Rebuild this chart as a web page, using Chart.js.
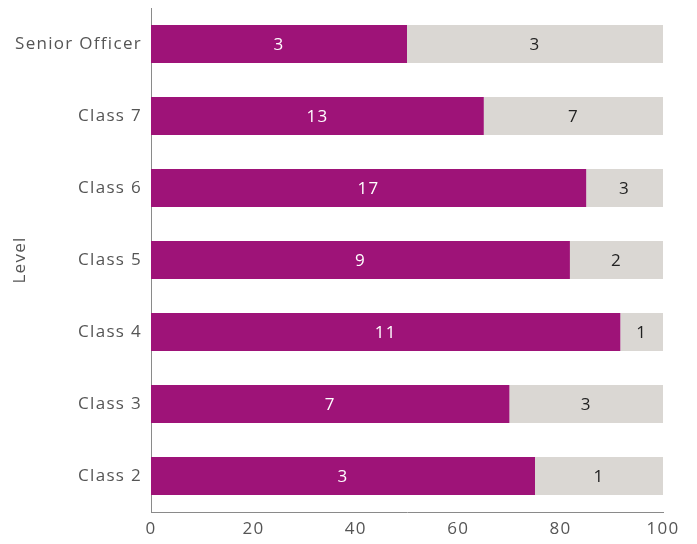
<!DOCTYPE html>
<html><head><meta charset="utf-8">
<script src="https://cdn.jsdelivr.net/npm/chart.js@4/dist/chart.umd.min.js"></script>
<style>html,body{margin:0;padding:0;background:#fff}#wrap{width:697px;height:544px}</style>
</head><body><div id="wrap"><canvas id="c"></canvas></div>
<script>
const categories = ["Senior Officer","Class 7","Class 6","Class 5","Class 4","Class 3","Class 2"];
const countsA = [3,13,17,9,11,7,3];
const countsB = [3,7,3,2,1,3,1];
const xTicks = [0,20,40,60,80,100];
const axisTitle = "Level";

const pctA = countsA.map((v,i)=>v/(v+countsB[i])*100);
const pctB = countsB.map((v,i)=>v/(v+countsA[i])*100);
const FONT = "'Open Sans', sans-serif";
const SPACING = '1.3px';

const spacingPlugin = {
  id:'spacing',
  beforeUpdate(chart){ chart.ctx.letterSpacing = SPACING; },
  beforeDraw(chart){ chart.ctx.letterSpacing = SPACING; }
};

const labelPlugin = {
  id:'segLabels',
  afterDatasetsDraw(chart){
    const ctx = chart.ctx;
    chart.data.datasets.forEach((ds,di)=>{
      const meta = chart.getDatasetMeta(di);
      meta.data.forEach((bar,i)=>{
        const x = (bar.x + bar.base)/2;
        ctx.save();
        ctx.letterSpacing = SPACING;
        ctx.font = "17px " + FONT;
        ctx.fillStyle = ds.labelColor;
        ctx.textAlign='center'; ctx.textBaseline='middle';
        ctx.fillText(String(ds.counts[i]), x, bar.y + 1);
        ctx.restore();
      });
    });
  }
};

new Chart(document.getElementById('c'),{
  type:'bar',
  data:{labels:categories,datasets:[
    {data:pctA,counts:countsA,backgroundColor:'#9E1378',labelColor:'#ffffff',categoryPercentage:0.53,barPercentage:1},
    {data:pctB,counts:countsB,backgroundColor:'#DAD7D3',labelColor:'#222222',categoryPercentage:0.53,barPercentage:1}
  ]},
  options:{
    indexAxis:'y',responsive:true,maintainAspectRatio:false,animation:false,
    layout:{padding:{top:0,right:34,bottom:0,left:2}},
    plugins:{legend:{display:false},tooltip:{enabled:false}},
    scales:{
      x:{stacked:true,min:0,max:100,
        afterBuildTicks(s){s.ticks=xTicks.map(v=>({value:v}));},
        afterFit(s){ s.height = 32; },
        grid:{display:false,drawTicks:false},
        border:{display:true,color:'#8a8a8a',width:1},
        ticks:{padding:9,color:'#555',font:{family:FONT,size:17,lineHeight:1}}},
      y:{stacked:true,
        afterFit(s){ s.width = 149; s.paddingTop = 8; s.paddingBottom = 0; },
        grid:{display:false,drawTicks:false},
        border:{display:true,color:'#8a8a8a',width:1},
        ticks:{padding:9,color:'#555',font:{family:FONT,size:17,lineHeight:1}},
        title:{display:true,text:axisTitle,color:'#555',font:{family:FONT,size:17},padding:{top:8,bottom:0}}}
    }
  },
  plugins:[spacingPlugin,labelPlugin]
});
</script></body></html>
